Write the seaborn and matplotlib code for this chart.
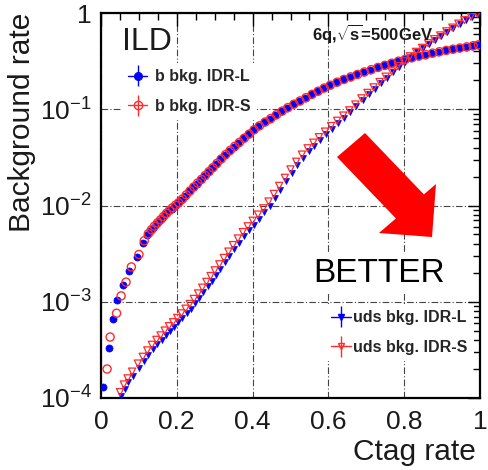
import numpy as np
import matplotlib
matplotlib.use("Agg")
import matplotlib.pyplot as plt
from matplotlib.patches import Polygon
from matplotlib.legend_handler import HandlerErrorbar
from matplotlib.ticker import MultipleLocator, LogLocator, NullFormatter
import seaborn as sns

# ---------------- data ----------------
bL_x = [0.005, 0.021, 0.032, 0.042, 0.058, 0.074, 0.095, 0.110, 0.122, 0.130,
        0.138, 0.146, 0.154, 0.162, 0.170, 0.178, 0.186, 0.194, 0.202, 0.212,
        0.222, 0.232, 0.242, 0.252, 0.262, 0.272, 0.282, 0.292, 0.303, 0.314,
        0.326, 0.338, 0.350, 0.362, 0.375, 0.388, 0.401, 0.415, 0.430, 0.445,
        0.460, 0.475, 0.490, 0.506, 0.522, 0.538, 0.554, 0.570, 0.586, 0.602,
        0.620, 0.638, 0.656, 0.674, 0.692, 0.710, 0.728, 0.746, 0.764, 0.782,
        0.800, 0.818, 0.836, 0.854, 0.872, 0.890, 0.908, 0.926, 0.944, 0.962, 0.980, 0.995]
bL_y = [1.3e-4, 3.3e-4, 6.6e-4, 1.05e-3, 1.48e-3, 2.1e-3, 2.9e-3, 4.1e-3, 4.9e-3, 5.4e-3,
        5.9e-3, 6.4e-3, 6.9e-3, 7.5e-3, 8.1e-3, 8.7e-3, 9.3e-3, 9.9e-3, 1.05e-2, 1.15e-2,
        1.27e-2, 1.40e-2, 1.54e-2, 1.69e-2, 1.85e-2, 2.03e-2, 2.23e-2, 2.45e-2, 2.72e-2, 3.02e-2,
        3.37e-2, 3.72e-2, 4.10e-2, 4.50e-2, 4.98e-2, 5.50e-2, 6.10e-2, 6.70e-2, 7.35e-2, 8.00e-2,
        8.75e-2, 9.55e-2, 0.104, 0.113, 0.122, 0.132, 0.143, 0.154, 0.166, 0.178,
        0.191, 0.204, 0.217, 0.230, 0.244, 0.258, 0.272, 0.286, 0.301, 0.316,
        0.330, 0.344, 0.357, 0.370, 0.383, 0.396, 0.409, 0.421, 0.433, 0.445, 0.457, 0.467]

bS_x = [0.016, 0.024, 0.041, 0.053, 0.066, 0.080, 0.100, 0.114, 0.125, 0.133,
        0.141, 0.149, 0.157, 0.165, 0.173, 0.181, 0.189, 0.197, 0.205, 0.215,
        0.225, 0.235, 0.245, 0.255, 0.265, 0.275, 0.285, 0.295, 0.306, 0.317,
        0.329, 0.341, 0.353, 0.365, 0.378, 0.391, 0.404, 0.418, 0.433, 0.448,
        0.463, 0.478, 0.493, 0.509, 0.525, 0.541, 0.557, 0.573, 0.589, 0.605,
        0.623, 0.641, 0.659, 0.677, 0.695, 0.713, 0.731, 0.749, 0.767, 0.785,
        0.803, 0.821, 0.839, 0.857, 0.875, 0.893, 0.911, 0.929, 0.947, 0.965, 0.982, 0.996]
bS_y = [2.0e-4, 4.3e-4, 7.6e-4, 1.15e-3, 1.6e-3, 2.3e-3, 3.1e-3, 4.3e-3, 5.1e-3, 5.6e-3,
        6.1e-3, 6.6e-3, 7.1e-3, 7.7e-3, 8.3e-3, 8.9e-3, 9.5e-3, 1.01e-2, 1.07e-2, 1.17e-2,
        1.29e-2, 1.42e-2, 1.56e-2, 1.71e-2, 1.87e-2, 2.05e-2, 2.25e-2, 2.47e-2, 2.74e-2, 3.04e-2,
        3.39e-2, 3.74e-2, 4.12e-2, 4.52e-2, 5.00e-2, 5.52e-2, 6.12e-2, 6.72e-2, 7.37e-2, 8.02e-2,
        8.77e-2, 9.57e-2, 0.104, 0.113, 0.122, 0.132, 0.143, 0.154, 0.166, 0.178,
        0.191, 0.204, 0.217, 0.230, 0.244, 0.258, 0.272, 0.286, 0.301, 0.316,
        0.330, 0.344, 0.357, 0.370, 0.383, 0.396, 0.409, 0.421, 0.433, 0.445, 0.457, 0.467]

udsL_x = [0.052, 0.062, 0.072, 0.085, 0.100, 0.113, 0.125, 0.137, 0.149, 0.160,
          0.171, 0.182, 0.193, 0.204, 0.215, 0.226, 0.237, 0.248, 0.259, 0.270,
          0.281, 0.292, 0.303, 0.315, 0.327, 0.339, 0.351, 0.364, 0.377, 0.390,
          0.403, 0.417, 0.431, 0.445, 0.459, 0.473, 0.488, 0.503, 0.518, 0.533,
          0.548, 0.563, 0.578, 0.594, 0.610, 0.626, 0.642, 0.658, 0.674, 0.690,
          0.706, 0.722, 0.738, 0.754, 0.770, 0.786, 0.802, 0.818, 0.834, 0.850,
          0.866, 0.882, 0.898, 0.914, 0.930, 0.946, 0.962, 0.978, 0.994]
udsL_y = [1.05e-4, 1.25e-4, 1.45e-4, 1.7e-4, 2.05e-4, 2.4e-4, 2.8e-4, 3.2e-4, 3.6e-4, 4.0e-4,
          4.5e-4, 5.0e-4, 5.5e-4, 6.1e-4, 6.8e-4, 7.6e-4, 8.5e-4, 9.6e-4, 1.10e-3, 1.26e-3,
          1.45e-3, 1.66e-3, 1.91e-3, 2.21e-3, 2.57e-3, 3.0e-3, 3.5e-3, 4.1e-3, 4.8e-3, 5.5e-3,
          6.3e-3, 7.3e-3, 8.5e-3, 1.0e-2, 1.2e-2, 1.46e-2, 1.78e-2, 2.18e-2, 2.63e-2, 3.13e-2,
          3.65e-2, 4.2e-2, 4.8e-2, 5.5e-2, 6.3e-2, 7.2e-2, 8.2e-2, 9.3e-2, 0.107, 0.125,
          0.143, 0.164, 0.187, 0.213, 0.242, 0.275, 0.31, 0.35, 0.39, 0.43,
          0.48, 0.53, 0.58, 0.64, 0.70, 0.77, 0.84, 0.91, 0.98]

udsS_x = [0.050, 0.060, 0.070, 0.082, 0.097, 0.110, 0.122, 0.134, 0.146, 0.157,
          0.168, 0.179, 0.190, 0.201, 0.212, 0.223, 0.234, 0.245, 0.256, 0.267,
          0.278, 0.289, 0.300, 0.312, 0.324, 0.336, 0.348, 0.361, 0.374, 0.387,
          0.400, 0.414, 0.428, 0.442, 0.456, 0.470, 0.485, 0.500, 0.515, 0.530,
          0.545, 0.560, 0.575, 0.591, 0.607, 0.623, 0.639, 0.655, 0.671, 0.687,
          0.703, 0.719, 0.735, 0.751, 0.767, 0.783, 0.799, 0.815, 0.831, 0.847,
          0.863, 0.879, 0.895, 0.911, 0.927, 0.943, 0.959, 0.976, 0.993]
udsS_y = [1.15e-4, 1.38e-4, 1.6e-4, 1.88e-4, 2.28e-4, 2.68e-4, 3.12e-4, 3.57e-4, 4.02e-4, 4.47e-4,
          5.02e-4, 5.58e-4, 6.13e-4, 6.8e-4, 7.58e-4, 8.47e-4, 9.48e-4, 1.07e-3, 1.22e-3, 1.40e-3,
          1.61e-3, 1.85e-3, 2.12e-3, 2.45e-3, 2.85e-3, 3.32e-3, 3.88e-3, 4.54e-3, 5.3e-3, 6.08e-3,
          6.95e-3, 8.05e-3, 9.35e-3, 1.1e-2, 1.32e-2, 1.6e-2, 1.94e-2, 2.37e-2, 2.85e-2, 3.38e-2,
          3.93e-2, 4.5e-2, 5.13e-2, 5.86e-2, 6.7e-2, 7.6e-2, 8.6e-2, 9.75e-2, 0.112, 0.13,
          0.148, 0.169, 0.192, 0.218, 0.247, 0.28, 0.315, 0.355, 0.395, 0.435,
          0.485, 0.535, 0.585, 0.645, 0.705, 0.775, 0.845, 0.915, 0.985]

legend_b = ["b bkg. IDR-L", "b bkg. IDR-S"]
legend_uds = ["uds bkg. IDR-L", "uds bkg. IDR-S"]
x_ticks = [0, 0.2, 0.4, 0.6, 0.8, 1.0]
x_tick_labels = ["0", "0.2", "0.4", "0.6", "0.8", "1"]
y_ticks = [1e-4, 1e-3, 1e-2, 1e-1, 1]
y_tick_labels = [r"10$^{-4}$", r"10$^{-3}$", r"10$^{-2}$", r"10$^{-1}$", "1"]

# ---------------- style ----------------
sns.set_style("white")
plt.rcParams["font.family"] = ["Liberation Sans", "DejaVu Sans"]
plt.rcParams["mathtext.fontset"] = "custom"
plt.rcParams["mathtext.rm"] = "Liberation Sans"
plt.rcParams["mathtext.it"] = "Liberation Sans:italic"
plt.rcParams["mathtext.bf"] = "Liberation Sans:bold"

BLUE = "#0000ff"
RED = "#ff2a2a"

fig = plt.figure(figsize=(4.88, 4.70), dpi=100)
ax = fig.add_axes([0.2070, 0.1532, 0.7766, 0.8191])
ax.set_yscale("log")

sns.scatterplot(x=bL_x, y=bL_y, ax=ax, marker="o", s=26, color=BLUE,
                edgecolor=BLUE, linewidth=0.5, zorder=3, legend=False)
sns.scatterplot(x=bS_x, y=bS_y, ax=ax, marker="o", s=34, facecolor="none",
                edgecolor=RED, linewidth=1.0, zorder=4, legend=False)
sns.scatterplot(x=udsL_x, y=udsL_y, ax=ax, marker="v", s=18, color=BLUE,
                edgecolor=BLUE, linewidth=0.5, zorder=3, legend=False)
sns.scatterplot(x=udsS_x, y=udsS_y, ax=ax, marker="v", s=26, facecolor="none",
                edgecolor=RED, linewidth=0.9, zorder=4, legend=False)

ax.set_xlim(0, 1)
ax.set_ylim(1e-4, 1)
ax.set_xticks(x_ticks)
ax.set_xticklabels(x_tick_labels)
ax.xaxis.set_minor_locator(MultipleLocator(0.05))
ax.set_yticks(y_ticks)
ax.set_yticklabels(y_tick_labels)
ax.yaxis.set_minor_locator(LogLocator(base=10, subs=np.arange(2, 10) * 1.0, numticks=20))
ax.yaxis.set_minor_formatter(NullFormatter())
ax.tick_params(which="both", direction="in", top=True, right=True,
               labelsize=19, labelcolor="#1a1a1a", color="black", width=1.0)
ax.tick_params(which="major", length=9)
ax.tick_params(which="minor", length=5)
ax.tick_params(axis="x", pad=8.6)
ax.tick_params(axis="y", pad=6.5)
for sp in ax.spines.values():
    sp.set_linewidth(1.6)
    sp.set_color("black")

ax.grid(True, which="major", color="#444444", linestyle=(0, (6, 2, 1, 2)), linewidth=0.8)
ax.set_axisbelow(True)

ax.set_xlabel("Ctag rate", fontsize=21.5, loc="right", color="#1a1a1a")
ax.xaxis.set_label_coords(0.99, -0.104)
ax.set_ylabel("Background rate", fontsize=21.5, loc="top", color="#1a1a1a")
ax.yaxis.set_label_coords(-0.1715, 1.0)

# legends
hbL = ax.errorbar([], [], yerr=[], fmt="-o", color=BLUE, ms=5.5, lw=1, capsize=2.5)
hbS = ax.errorbar([], [], yerr=[], fmt="-o", color=RED, mfc="none", mec=RED, ms=6, lw=1, capsize=2.5)
huL = ax.errorbar([], [], yerr=[], fmt="-v", color=BLUE, ms=4.5, lw=1, capsize=2.5)
huS = ax.errorbar([], [], yerr=[], fmt="-v", color=RED, mfc="none", mec=RED, ms=5, lw=1, capsize=2.5)
hmap = {type(hbL): HandlerErrorbar(yerr_size=0.65)}
common = dict(loc="upper left", borderaxespad=0, frameon=True, facecolor="white",
              edgecolor="none", framealpha=1, fancybox=False,
              prop={"weight": "bold", "size": 11.5}, handlelength=1.2,
              labelspacing=0.9, borderpad=0.4, handler_map=hmap)
leg1 = ax.legend([hbL, hbS], legend_b, bbox_to_anchor=(0.055, 0.870),
                 handletextpad=0.5, **common)
ax.add_artist(leg1)
leg2 = ax.legend([huL, huS], legend_uds, bbox_to_anchor=(0.591, 0.244),
                 handletextpad=0.15, **common)

# annotations
ax.text(0.055, 0.904, "ILD", transform=ax.transAxes, fontsize=23,
        ha="left", va="baseline", color="#1a1a1a", zorder=6)
ax.text(0.557, 0.930, r"6q,$\sqrt{\mathbf{s}}$=500GeV", transform=ax.transAxes,
        fontsize=12, fontweight="bold", ha="left", va="baseline", color="#1a1a1a", zorder=6)
ax.text(0.559, 0.301, "BETTER", transform=ax.transAxes, fontsize=24,
        ha="left", va="baseline", color="black", zorder=6,
        bbox=dict(facecolor="white", edgecolor="none", pad=3))
arrow_pts = [(0.6966, 0.6883), (0.8520, 0.5288), (0.8839, 0.5558), (0.8734, 0.4182),
             (0.7335, 0.4286), (0.7781, 0.4665), (0.6227, 0.6260)]
ax.add_patch(Polygon(arrow_pts, closed=True, transform=ax.transAxes,
                     facecolor="#ff0000", edgecolor="none", zorder=6))

fig.savefig("out.png", dpi=100)
